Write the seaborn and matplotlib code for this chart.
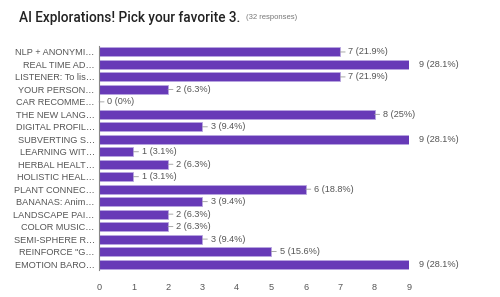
import matplotlib.pyplot as plt
import seaborn as sns
import pandas as pd

sns.set_style("white")
plt.rcParams['font.family'] = ['Liberation Sans', 'DejaVu Sans']

labels = ["NLP + ANONYMI…", "REAL TIME AD…", "LISTENER: To lis…", "YOUR PERSON…",
          "CAR RECOMME…", "THE NEW LANG…", "DIGITAL PROFIL…", "SUBVERTING S…",
          "LEARNING WIT…", "HERBAL HEALT…", "HOLISTIC HEAL…", "PLANT CONNEC…",
          "BANANAS: Anim…", "LANDSCAPE PAI…", "COLOR MUSIC…", "SEMI-SPHERE R…",
          "REINFORCE \"G…", "EMOTION BARO…"]
counts = [7, 9, 7, 2, 0, 8, 3, 9, 1, 2, 1, 6, 3, 2, 2, 3, 5, 9]
pcts = ["21.9%", "28.1%", "21.9%", "6.3%", "0%", "25%", "9.4%", "28.1%", "3.1%",
        "6.3%", "3.1%", "18.8%", "9.4%", "6.3%", "6.3%", "9.4%", "15.6%", "28.1%"]

data = pd.DataFrame({'label': labels, 'count': counts})

fig = plt.figure(figsize=(5, 2.97), dpi=100)
ax = fig.add_axes([0.198, 0.09, 0.62, 0.756])

sns.barplot(data=data, x='count', y='label', orient='h', color='#673ab7',
            saturation=1, width=0.72, edgecolor='#b9a6e0', linewidth=0.6, ax=ax)

ax.set_xlim(0, 9)
ax.set_ylim(len(labels) - 0.5, -0.5)
ax.set_xticks(range(10))
ax.set_xlabel('')
ax.set_ylabel('')
ax.tick_params(axis='both', length=0, labelsize=6.6, labelcolor='#555555')
ax.tick_params(axis='x', pad=9)
ax.tick_params(axis='y', pad=3)
for s in ['top', 'right', 'bottom']:
    ax.spines[s].set_visible(False)
ax.spines['left'].set_color('#888888')
ax.spines['left'].set_linewidth(0.8)

for i, (c, p) in enumerate(zip(counts, pcts)):
    txt = f"{c} ({p})"
    if c == max(counts):
        ax.annotate(txt, xy=(c, i), xytext=(7, 0), textcoords='offset points',
                    va='center', ha='left', fontsize=6.6, color='#555555',
                    annotation_clip=False)
    else:
        ax.annotate(txt, xy=(c, i), xytext=(6, 0), textcoords='offset points',
                    va='center', ha='left', fontsize=6.6, color='#555555',
                    annotation_clip=False,
                    arrowprops=dict(arrowstyle='-', color='#999999', lw=0.6,
                                    shrinkA=0, shrinkB=0))

title = fig.text(0.038, 0.94, "AI Explorations! Pick your favorite 3.", fontsize=9.8,
                 fontweight='medium', color='#222222', va='center', ha='left',
                 family=['Roboto', 'DejaVu Sans'])
fig.canvas.draw()
bb = title.get_window_extent().transformed(fig.transFigure.inverted())
fig.text(bb.x1 + 0.012, 0.94, "(32 responses)", fontsize=5.5, color='#777777',
         va='center', ha='left')

fig.savefig('out.png', dpi=100, facecolor='white')
